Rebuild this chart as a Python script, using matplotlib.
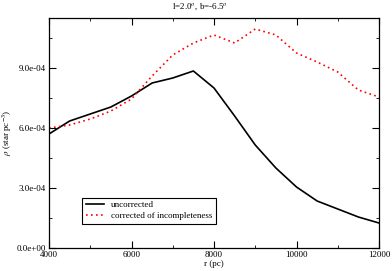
import matplotlib
matplotlib.use("Agg")
import matplotlib.pyplot as plt
from matplotlib.ticker import MultipleLocator, FormatStrFormatter

plt.rcParams['font.family'] = ['Liberation Serif', 'DejaVu Serif']
plt.rcParams['mathtext.fontset'] = 'stix'

r_pc = [4000, 4500, 5000, 5500, 6000, 6500, 7000, 7500, 8000, 8500,
        9000, 9500, 10000, 10500, 11000, 11500, 12000]
uncorrected = [5.7e-4, 6.35e-4, 6.7e-4, 7.05e-4, 7.6e-4, 8.25e-4, 8.5e-4, 8.85e-4,
               8.0e-4, 6.6e-4, 5.15e-4, 4.0e-4, 3.05e-4, 2.35e-4, 1.95e-4, 1.55e-4, 1.25e-4]
corrected = [6.0e-4, 6.15e-4, 6.45e-4, 6.85e-4, 7.45e-4, 8.6e-4, 9.65e-4, 10.25e-4,
             10.65e-4, 10.25e-4, 10.95e-4, 10.65e-4, 9.75e-4, 9.3e-4, 8.8e-4, 7.9e-4, 7.55e-4]

fs = 6.5
fig = plt.figure(figsize=(3.92, 2.71), dpi=100)
ax = fig.add_axes([49 / 392, 1 - 248 / 271, 330 / 392, 230 / 271])

ax.plot(r_pc, uncorrected, color='black', lw=1.2, label='uncorrected')
ax.plot(r_pc, corrected, color='red', lw=1.2, ls=(0, (1, 2)), label='corrected of incompleteness')

ax.set_xlim(4000, 12000)
ax.set_ylim(0, 1.15e-3)
ax.xaxis.set_major_locator(MultipleLocator(2000))
ax.xaxis.set_minor_locator(MultipleLocator(1000))
ax.yaxis.set_major_locator(MultipleLocator(3e-4))
ax.yaxis.set_minor_locator(MultipleLocator(1.5e-4))
ax.yaxis.set_major_formatter(FormatStrFormatter('%.1e'))
ax.tick_params(which='both', direction='in', top=True, right=True, labelsize=fs, pad=2)
ax.tick_params(which='major', length=5)
ax.tick_params(which='minor', length=2.5)
for s in ax.spines.values():
    s.set_linewidth(0.9)

ax.set_xlabel('r (pc)', fontsize=fs, labelpad=1)
ax.set_ylabel(r'$\rho$ (star pc$^{-3}$)', fontsize=fs, labelpad=2)
fig.text(0.51, 1 - 6.5 / 271, r'l=2.0$^{o}$, b=-6.5$^{o}$', fontsize=fs,
         ha='center', va='center')

leg = ax.legend(loc='lower left', bbox_to_anchor=(0.1, 0.104), borderaxespad=0,
                fontsize=fs, frameon=True, fancybox=False, edgecolor='black',
                handlelength=2.0, borderpad=0.4, labelspacing=0.3, framealpha=1)
leg.get_frame().set_linewidth(0.8)

fig.savefig('out.png', dpi=100)
